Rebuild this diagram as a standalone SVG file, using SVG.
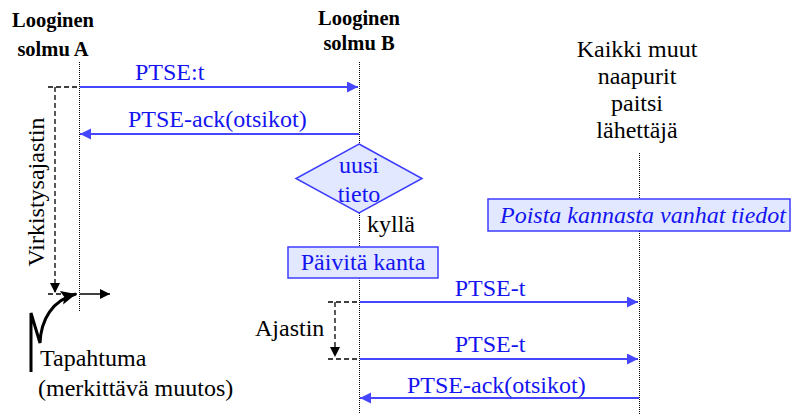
<svg xmlns="http://www.w3.org/2000/svg" width="792" height="414" viewBox="0 0 792 414">
<style>
text{font-family:'Liberation Serif','Times New Roman','DejaVu Serif',serif}
.hdr{font-weight:bold;font-size:20.5px;fill:#000;text-anchor:middle}
.t{font-size:24px;fill:#000}
.b{font-size:24px;fill:#1414f0}
.life{stroke:#000;stroke-width:1;stroke-dasharray:1 1;fill:none}
.msg{stroke:#4646ff;stroke-width:2;fill:none}
.dash{stroke:#000;stroke-width:1.3;stroke-dasharray:5 3;fill:none}
.shape{fill:#e2e8ff;stroke:#3c3cff;stroke-width:1.5}
</style>
<defs>
<marker id="ab" markerUnits="userSpaceOnUse" markerWidth="12" markerHeight="12" refX="11" refY="5.5" orient="auto"><path d="M0,0 L11,5.5 L0,11 z" fill="#4646ff"/></marker>
<marker id="ak" markerUnits="userSpaceOnUse" markerWidth="12" markerHeight="12" refX="10" refY="5" orient="auto"><path d="M0,0 L10,5 L0,10 z" fill="#000"/></marker>
<marker id="ae" markerUnits="userSpaceOnUse" markerWidth="18" markerHeight="18" refX="15" refY="7" orient="auto"><path d="M0,0 L15,7 L0,14 L3,7 z" fill="#000"/></marker>
</defs>
<rect width="792" height="414" fill="#fff"/>

<g id="nodeA">
<text class="hdr" x="53" y="27">Looginen</text>
<text class="hdr" x="53" y="56">solmu A</text>
<line class="life" x1="79.5" y1="62" x2="79.5" y2="311"/>
</g>

<g id="nodeB">
<text class="hdr" x="359" y="25">Looginen</text>
<text class="hdr" x="359" y="50">solmu B</text>
<line class="life" x1="359.5" y1="62" x2="359.5" y2="144"/>
<line class="life" x1="359.5" y1="213" x2="359.5" y2="247"/>
<line class="life" x1="359.5" y1="278" x2="359.5" y2="414"/>
</g>

<g id="nodeC">
<text class="t" x="637" y="57" text-anchor="middle">Kaikki muut</text>
<text class="t" x="637" y="84" text-anchor="middle">naapurit</text>
<text class="t" x="637" y="111" text-anchor="middle">paitsi</text>
<text class="t" x="637" y="138" text-anchor="middle">lähettäjä</text>
<line class="life" x1="639.5" y1="153" x2="639.5" y2="199"/>
<line class="life" x1="639.5" y1="231" x2="639.5" y2="414"/>
</g>

<g id="decision">
<polygon class="shape" points="359,144 422,178.5 359,213 296,178.5"/>
<text class="b" x="359" y="173" text-anchor="middle">uusi</text>
<text class="b" x="359" y="202" text-anchor="middle">tieto</text>
<text class="t" x="367" y="232">kyllä</text>
</g>

<g id="update">
<rect class="shape" x="288" y="247" width="150" height="31"/>
<text class="b" x="363" y="270" text-anchor="middle">Päivitä kanta</text>
</g>

<g id="delete">
<rect class="shape" x="488" y="199" width="302" height="32"/>
<text class="b" x="643" y="223" text-anchor="middle" font-style="italic">Poista kannasta vanhat tiedot</text>
</g>

<g id="event">
<path d="M31,372 L31,313 L40,343 C41,320 52,300 76,294" fill="none" stroke="#000" stroke-width="3" marker-end="url(#ae)"/>
<text class="t" x="40" y="366">Tapahtuma</text>
<text class="t" x="38" y="396">(merkittävä muutos)</text>
</g>

<g id="connectors">
<line class="msg" x1="80" y1="87" x2="358" y2="87" marker-end="url(#ab)"/>
<text class="b" x="135" y="80">PTSE:t</text>
<line class="msg" x1="359" y1="134" x2="80" y2="134" marker-end="url(#ab)"/>
<text class="b" x="128" y="127">PTSE-ack(otsikot)</text>

<polyline class="dash" points="48,87 79,87"/>
<line class="dash" x1="55" y1="87" x2="55" y2="293" marker-end="url(#ak)"/>
<polyline class="dash" points="48,294 79,294"/>
<text class="t" transform="translate(44,192) rotate(-90)" text-anchor="middle">Virkistysajastin</text>
<line x1="80" y1="294" x2="110" y2="294" stroke="#000" stroke-width="1.5" marker-end="url(#ak)"/>

<line class="msg" x1="360" y1="302" x2="638" y2="302" marker-end="url(#ab)"/>
<text class="b" x="490" y="296" text-anchor="middle">PTSE-t</text>
<line class="msg" x1="360" y1="359" x2="638" y2="359" marker-end="url(#ab)"/>
<text class="b" x="490" y="352" text-anchor="middle">PTSE-t</text>
<line class="msg" x1="639" y1="398" x2="360" y2="398" marker-end="url(#ab)"/>
<text class="b" x="407" y="393">PTSE-ack(otsikot)</text>

<polyline class="dash" points="328,302 359,302"/>
<line class="dash" x1="335" y1="302" x2="335" y2="357" marker-end="url(#ak)"/>
<polyline class="dash" points="328,359 359,359"/>
<text class="t" x="255" y="336">Ajastin</text>
</g>
</svg>
